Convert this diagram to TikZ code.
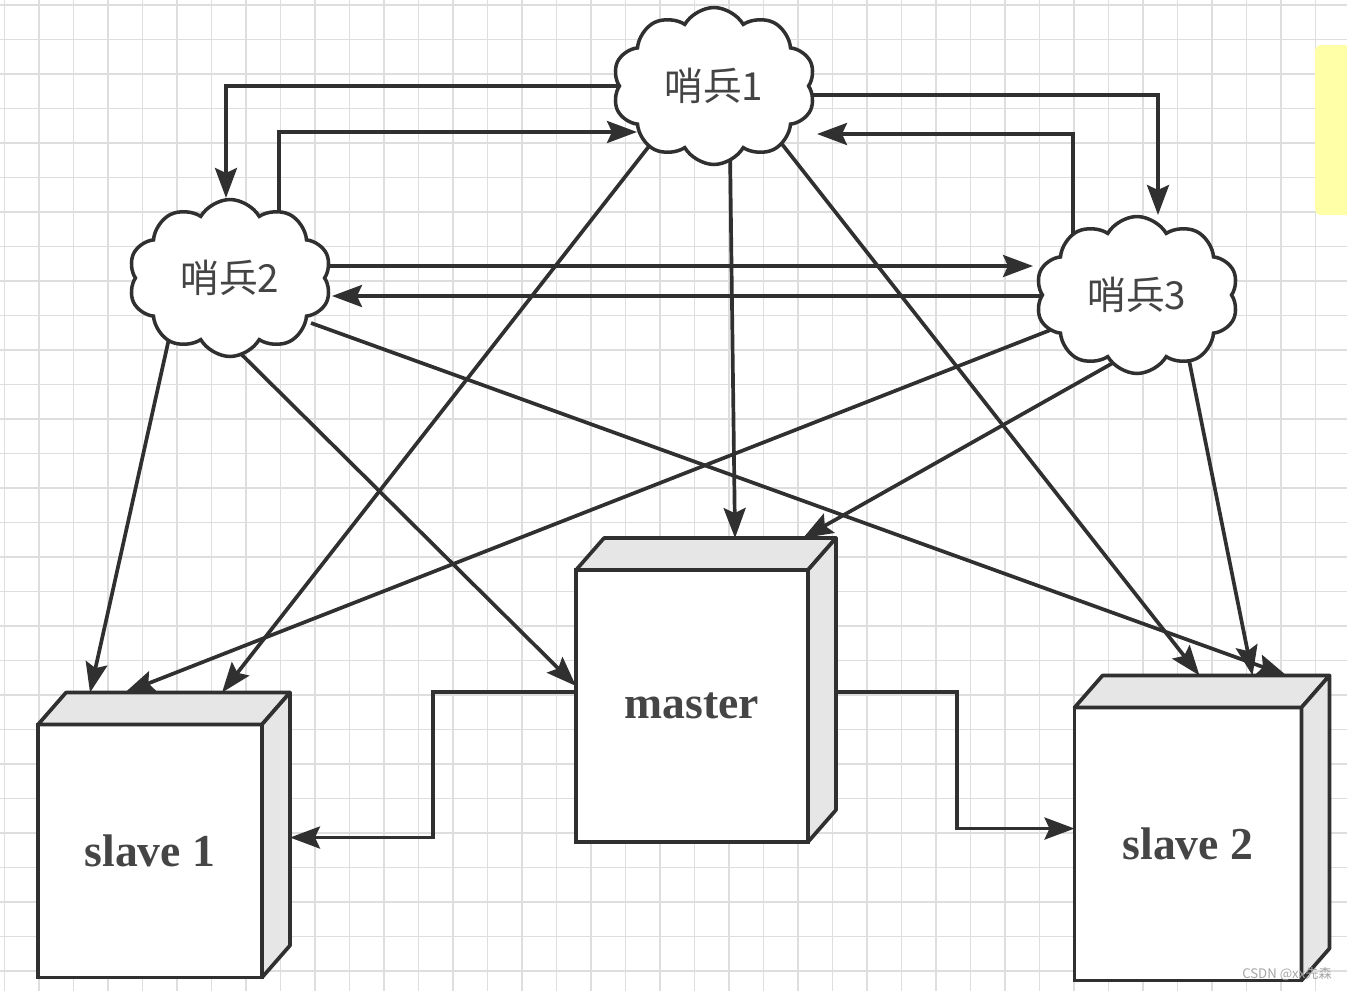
\documentclass[tikz,border=0pt]{standalone}
\usepackage{fontspec}
\setmainfont{Liberation Serif}
\newfontfamily\cjk{Noto Sans CJK SC}
\usetikzlibrary{shapes.symbols,arrows.meta,calc}
\pgfdeclarelayer{gridlayer}
\pgfdeclarelayer{edgelayer}
\pgfsetlayers{gridlayer,edgelayer,main}
\definecolor{linegray}{HTML}{303030}
\definecolor{facegray}{HTML}{E6E6E6}
\definecolor{gridgray}{HTML}{DEDEDE}
\definecolor{hlyellow}{HTML}{FFFFA8}
\definecolor{textgray}{HTML}{444444}
\tikzset{
  sentinel/.style={cloud, cloud puffs=10, cloud puff arc=120, cloud ignores aspect,
    draw=linegray, fill=white, line width=2pt, minimum width=4.06cm,
    minimum height=3.14cm, inner sep=0pt, text=textgray,
    font=\cjk\fontsize{22}{26}\selectfont},
  server/.style={rectangle, draw=linegray, fill=white, line width=2.1pt,
    outer sep=0pt, inner sep=0pt, text=linegray!90,
    font=\bfseries\fontsize{26}{30}\selectfont},
  face/.style={draw=linegray, fill=facegray, line width=2.1pt, line join=round},
  arr/.style={-{Stealth[length=0.6cm,width=0.44cm,inset=0.1cm]},
    draw=linegray, line width=2.1pt},
  gridline/.style={draw=gridgray, line width=0.8pt},
  wmark/.style={text=gray!70, font=\cjk\fontsize{7.5}{9}\selectfont, inner sep=0pt}
}
\begin{document}
\begin{tikzpicture}[x=0.02cm,y=-0.02cm]
  \useasboundingbox (0,0) rectangle (1347,991);
  \begin{pgfonlayer}{gridlayer}
    \fill[white] (0,0) rectangle (1347,991);
    \foreach \i in {0,...,39}
      \draw[gridline] (4.5+34.5*\i,0) -- (4.5+34.5*\i,991);
    \foreach \j in {0,...,28}
      \draw[gridline] (0,5+34.5*\j) -- (1347,5+34.5*\j);
    \fill[hlyellow, rounded corners=0.12cm] (1315,45) rectangle (1355,215);
  \end{pgfonlayer}

  \node[sentinel] (sen1) at (714,86) {哨兵1};
  \node[sentinel] (sen2) at (230,278) {哨兵2};
  \node[sentinel] (sen3) at (1137,295) {哨兵3};

  \node[server, minimum width=4.64cm, minimum height=5.44cm] (master) at (692,706) {master};
  \node[server, minimum width=4.48cm, minimum height=5.06cm] (slave1) at (150,851) {slave 1};
  \node[server, minimum width=4.54cm, minimum height=5.46cm] (slave2) at (1188,844) {slave 2};

  \foreach \b in {master,slave1,slave2} {
    \draw[face] (\b.north west) -- ++(28,-32) -- ($(\b.north east)+(28,-32)$)
      -- (\b.north east) -- cycle;
    \draw[face] (\b.north east) -- ++(28,-32) -- ($(\b.south east)+(28,-32)$)
      -- (\b.south east) -- cycle;
  }

  \node[wmark] (wm) at (1287,974) {CSDN @xx先森};

  \begin{pgfonlayer}{edgelayer}
    \begin{scope}[arr]
      \draw ($(sen1.center)+(-90,0)$) -| ($(sen2.center)+(-4,-80)$);
      \draw ($(sen2.center)+(49,-40)$) |- ($(sen1.center)+(-77,46)$);
      \draw ($(sen1.center)+(90,9)$) -| ($(sen3.center)+(21,-80)$);
      \draw ($(sen3.center)+(-64,-40)$) |- ($(sen1.center)+(103,48)$);
      \draw ($(sen2.center)+(90,-12)$) -- ($(sen3.center)+(-104,-29)$);
      \draw ($(sen3.center)+(-90,1)$) -- ($(sen2.center)+(102,18)$);

      \draw ($(sen1.center)+(16,62)$) -- ($(master.north west)+(159,-32)$);
      \draw ($(sen1.center)+(-57,50)$) -- ($(slave1.north west)+(184,-32)$);
      \draw ($(sen1.center)+(64,53)$) -- ($(slave2.north west)+(125,-32)$);
      \draw ($(sen2.center)+(-58,47)$) -- ($(slave1.north west)+(52,-32)$);
      \draw ($(sen2.center)+(1,66)$) -- ($(master.north west)+(0,116)$);
      \draw ($(sen2.center)+(81,45)$) -- ($(slave2.north west)+(212,-32)$);
      \draw ($(sen3.center)+(-61,25)$) -- ($(slave1.north west)+(87,-32)$);
      \draw ($(sen3.center)+(-10,60)$) -- ($(master.north west)+(227,-32)$);
      \draw ($(sen3.center)+(49,50)$) -- ($(slave2.north west)+(178,-32)$);

      \draw ($(master.north west)+(0,122)$) -- ++(-143,0) |- ($(slave1.north east)+(28,113)$);
      \draw ($(master.north east)+(28,122)$) -- ++(121,0) |- ($(slave2.north west)+(0,121)$);
    \end{scope}
  \end{pgfonlayer}
\end{tikzpicture}
\end{document}
